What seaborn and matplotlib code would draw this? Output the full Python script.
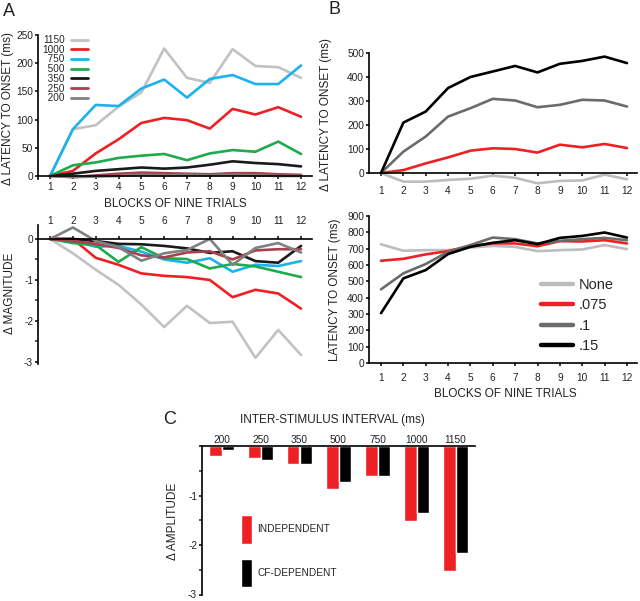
import numpy as np
import pandas as pd
import matplotlib
matplotlib.use("Agg")
import matplotlib.pyplot as plt
from matplotlib.ticker import MultipleLocator
import seaborn as sns

sns.set_style("ticks")
plt.rcParams['font.family'] = ['Liberation Sans', 'DejaVu Sans']
plt.rcParams['axes.unicode_minus'] = False

# -----------------------------
# data
# -----------------------------
blocks = list(range(1, 13))

# panel A top: change in latency to onset (ms), per ISI
lat_1150 = [0, 83, 90, 123, 148, 226, 174, 165, 225, 195, 193, 174]
lat_1000 = [0, 9, 40, 65, 94, 103, 99, 84, 119, 109, 122, 105]
lat_750 = [0, 83, 126, 124, 155, 171, 139, 172, 179, 163, 163, 196]
lat_500 = [0, 19, 24, 32, 36, 39, 28, 40, 46, 43, 61, 39]
lat_350 = [0, 4, 9, 12, 15, 13, 15, 20, 26, 23, 21, 17]
lat_250 = [0, -2, 1, 4, 6, 5, 4, 3, 5, 5, 3, 2]
lat_200 = [0, -2, -1, 0, 2, 1, 2, 1, 2, 1, 0, 0]

# panel A bottom: change in magnitude
mag_1150 = [0, -0.35, -0.75, -1.12, -1.6, -2.15, -1.63, -2.05, -2.02, -2.9, -2.22, -2.83]
mag_1000 = [0, 0, -0.46, -0.63, -0.84, -0.9, -0.93, -1.0, -1.42, -1.24, -1.33, -1.7]
mag_750 = [0, -0.05, -0.19, -0.17, -0.31, -0.5, -0.58, -0.47, -0.8, -0.63, -0.66, -0.54]
mag_500 = [0, -0.1, -0.15, -0.56, -0.2, -0.47, -0.49, -0.72, -0.61, -0.67, -0.8, -0.93]
mag_350 = [0, 0, -0.05, -0.12, -0.13, -0.17, -0.23, -0.34, -0.3, -0.54, -0.58, -0.17]
mag_250 = [0, -0.05, -0.12, -0.22, -0.4, -0.45, -0.33, -0.3, -0.5, -0.28, -0.25, -0.25]
mag_200 = [0, 0.28, -0.05, -0.2, -0.53, -0.35, -0.27, 0, -0.63, -0.22, -0.1, -0.33]

isi_names = ['1150', '1000', '750', '500', '350', '250', '200']
isi_colors = ['#c2c2c2', '#ee2024', '#1cb2ee', '#1eab4c', '#1a1a1a', '#a8404f', '#808080']

# panel B top: change in latency to onset (ms), per CF level
dlat_none = [0, -36, -36, -29, -24, -11, -20, -43, -33, -31, -7, -26]
dlat_075 = [0, 12, 40, 65, 93, 103, 100, 85, 118, 107, 121, 104]
dlat_1 = [0, 89, 152, 235, 270, 309, 302, 274, 284, 305, 302, 277]
dlat_15 = [0, 210, 256, 354, 400, 423, 446, 419, 455, 467, 485, 458]

# panel B bottom: latency to onset (ms)
onset_none = [727, 687, 691, 691, 707, 717, 711, 685, 691, 695, 722, 697]
onset_075 = [626, 638, 665, 685, 717, 732, 732, 715, 746, 744, 752, 732]
onset_1 = [451, 549, 606, 681, 722, 768, 758, 732, 748, 758, 766, 752]
onset_15 = [305, 518, 569, 667, 711, 736, 752, 728, 766, 778, 799, 768]

cf_names = ['None', '.075', '.1', '.15']
cf_colors = ['#bdbdbd', '#ee2024', '#6b6b6b', '#000000']

# panel C: change in amplitude per ISI
isi_labels = ['200', '250', '350', '500', '750', '1000', '1150']
amp_indep = [-0.2, -0.24, -0.37, -0.86, -0.6, -1.51, -2.52]
amp_cfdep = [-0.09, -0.29, -0.36, -0.72, -0.6, -1.36, -2.17]


def long_df(series, names, col):
    rows = []
    for name, vals in zip(names, series):
        for b, v in zip(blocks, vals):
            rows.append({'block': b, col: v, 'group': name})
    return pd.DataFrame(rows)


df_lat = long_df([lat_1150, lat_1000, lat_750, lat_500, lat_350, lat_250, lat_200], isi_names, 'val')
df_mag = long_df([mag_1150, mag_1000, mag_750, mag_500, mag_350, mag_250, mag_200], isi_names, 'val')
df_dlat = long_df([dlat_none, dlat_075, dlat_1, dlat_15], cf_names, 'val')
df_onset = long_df([onset_none, onset_075, onset_1, onset_15], cf_names, 'val')
df_amp = pd.DataFrame({
    'isi': isi_labels * 2,
    'amp': amp_indep + amp_cfdep,
    'kind': ['INDEPENDENT'] * 7 + ['CF-DEPENDENT'] * 7,
})

W, H = 640, 601
fig = plt.figure(figsize=(W / 100, H / 100), dpi=100)


def box(x0, y0, x1, y1):
    # pixel box -> figure fraction
    return [x0 / W, 1 - y1 / H, (x1 - x0) / W, (y1 - y0) / H]


ax_a1 = fig.add_axes(box(38, 35, 312, 178.8))
ax_a2 = fig.add_axes(box(38, 224.6, 312, 364))
ax_b1 = fig.add_axes(box(369, 53, 637, 187.4))
ax_b2 = fig.add_axes(box(369, 216, 637, 363))
ax_c = fig.add_axes(box(202, 446, 475, 594.5))

LW = 1.9
tick_kw = dict(labelsize=7.3, length=2.5, width=1.1, color='black', labelcolor='#222222')


def style(ax, top=False):
    for s in ax.spines.values():
        s.set_linewidth(1.2)
        s.set_color('black')
    ax.spines['right'].set_visible(False)
    if top:
        ax.spines['bottom'].set_visible(False)
        ax.spines['top'].set_position(('data', 0))
    else:
        ax.spines['top'].set_visible(False)
    ax.set_xlabel('')
    ax.set_ylabel('')
    ax.tick_params(**tick_kw)


# ---- panel A top
sns.lineplot(data=df_lat, x='block', y='val', hue='group', hue_order=isi_names,
             palette=isi_colors, linewidth=LW, ax=ax_a1)
style(ax_a1)
ax_a1.spines['bottom'].set_position(('data', 0))
ax_a1.set_xlim(0.47, 12.48)
ax_a1.set_ylim(-5, 250)
ax_a1.set_xticks(blocks)
ax_a1.set_yticks([0, 50, 100, 150, 200, 250])
ax_a1.tick_params(axis='x', pad=2)
ax_a1.tick_params(axis='y', pad=1)
handles, labels = ax_a1.get_legend_handles_labels()
labels = [lab.rjust(4, '\u2007') for lab in labels]
leg = ax_a1.legend(handles, labels, loc='upper left', bbox_to_anchor=(0.015, 1.0),
                   frameon=False, markerfirst=False, fontsize=7.2, handlelength=1.7,
                   handletextpad=0.6, labelspacing=-0.03, borderpad=0, borderaxespad=0)
for ln in leg.get_lines():
    ln.set_linewidth(2.0)

# ---- panel A bottom
sns.lineplot(data=df_mag, x='block', y='val', hue='group', hue_order=isi_names,
             palette=isi_colors, linewidth=LW, ax=ax_a2, legend=False)
style(ax_a2, top=True)
ax_a2.xaxis.tick_top()
ax_a2.set_xlim(0.47, 12.48)
ax_a2.set_ylim(-3.05, 0.35)
ax_a2.set_xticks(blocks)
ax_a2.set_yticks([-3, -2, -1, 0])
ax_a2.set_yticklabels(['-3', '-2', '-1', '0'])
ax_a2.yaxis.set_minor_locator(MultipleLocator(0.5))
ax_a2.tick_params(axis='y', which='minor', length=2.5, width=1.1)
ax_a2.tick_params(axis='x', pad=6.5)
ax_a2.tick_params(axis='y', pad=1)

# ---- panel B top
sns.lineplot(data=df_dlat, x='block', y='val', hue='group', hue_order=cf_names,
             palette=cf_colors, linewidth=LW, ax=ax_b1, legend=False)
style(ax_b1)
ax_b1.spines['bottom'].set_position(('data', 0))
ax_b1.spines['left'].set_bounds(0, 500)
ax_b1.set_xlim(0.463, 12.45)
ax_b1.set_ylim(-60, 500)
ax_b1.set_xticks(blocks)
ax_b1.set_yticks([0, 100, 200, 300, 400, 500])
ax_b1.tick_params(axis='x', pad=7)
ax_b1.tick_params(axis='y', pad=1)

# ---- panel B bottom
sns.lineplot(data=df_onset, x='block', y='val', hue='group', hue_order=cf_names,
             palette=cf_colors, linewidth=LW, ax=ax_b2)
style(ax_b2)
ax_b2.set_xlim(0.463, 12.45)
ax_b2.set_ylim(0, 900)
ax_b2.set_xticks(blocks)
ax_b2.set_yticks(range(0, 901, 100))
ax_b2.tick_params(axis='x', pad=5)
ax_b2.tick_params(axis='y', pad=1)
leg = ax_b2.legend(loc='upper left', bbox_to_anchor=(0.64, 0.58), frameon=False,
                   fontsize=10.5, handlelength=2.2, handletextpad=0.4,
                   labelspacing=0.45, borderpad=0, borderaxespad=0)
for ln in leg.get_lines():
    ln.set_linewidth(3.2)

# ---- panel C
sns.barplot(data=df_amp, x='isi', y='amp', hue='kind', order=isi_labels,
            hue_order=['INDEPENDENT', 'CF-DEPENDENT'],
            palette=['#ee2024', '#000000'], width=0.62, ax=ax_c, saturation=1)
style(ax_c, top=True)
ax_c.xaxis.tick_top()
ax_c.set_xlim(-0.5, 6.5)
ax_c.set_ylim(-3, 0)
ax_c.set_yticks([-3, -2, -1, 0])
ax_c.set_yticklabels(['-3', '-2', '-1', ''])
ax_c.yaxis.set_minor_locator(MultipleLocator(0.5))
ax_c.tick_params(axis='y', which='minor', length=2.5, width=1.1)
ax_c.tick_params(axis='x', length=0, pad=1)
ax_c.tick_params(axis='y', pad=1)
ax_c.legend(loc='upper left', bbox_to_anchor=(0.143, 0.535), frameon=False,
            fontsize=7.3, handlelength=1.1, handleheight=4.0, handletextpad=0.5,
            labelspacing=1.45, borderpad=0, borderaxespad=0)

# ---- labels
txt = dict(color='#222222', ha='center', va='center')
fig.text(8 / W, 1 - 108 / H, '\u0394 LATENCY TO ONSET (ms)', rotation=90, fontsize=8.5, **txt)
fig.text(175 / W, 1 - 204 / H, 'BLOCKS OF NINE TRIALS', fontsize=8.5, **txt)
fig.text(10 / W, 1 - 293 / H, '\u0394 MAGNITUDE', rotation=90, fontsize=8.5, **txt)
fig.text(326 / W, 1 - 114 / H, '\u0394 LATENCY TO ONSET (ms)', rotation=90, fontsize=8.5, **txt)
fig.text(335 / W, 1 - 290 / H, 'LATENCY TO ONSET (ms)', rotation=90, fontsize=8.5, **txt)
fig.text(505 / W, 1 - 394 / H, 'BLOCKS OF NINE TRIALS', fontsize=8.5, **txt)
fig.text(332 / W, 1 - 420 / H, 'INTER-STIMULUS INTERVAL (ms)', fontsize=8.5, **txt)
fig.text(173 / W, 1 - 521 / H, '\u0394 AMPLITUDE', rotation=90, fontsize=8.5, **txt)

fig.text(9 / W, 1 - 11 / H, 'A', fontsize=13, **txt)
fig.text(335 / W, 1 - 10 / H, 'B', fontsize=13, **txt)
fig.text(170 / W, 1 - 420 / H, 'C', fontsize=13, **txt)

fig.savefig('out.png', dpi=100)
